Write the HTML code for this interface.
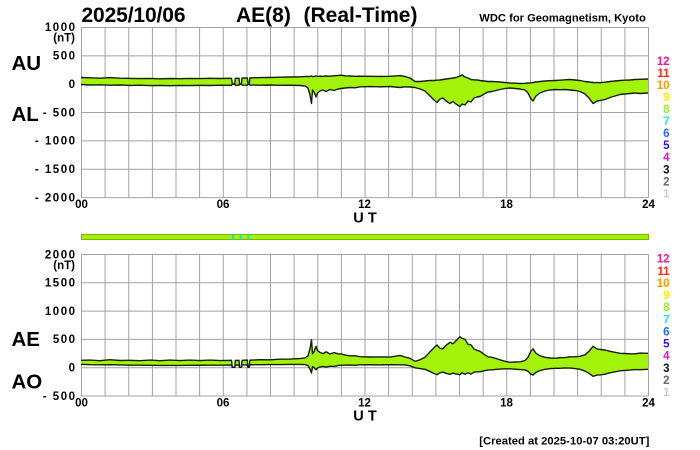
<!DOCTYPE html>
<html><head><meta charset="utf-8"><style>
html,body{margin:0;padding:0;background:#fff;}
svg{display:block;}
text{font-family:"Liberation Sans",Arial,sans-serif;font-weight:bold;fill:#000;}
</style></head><body>
<svg width="700" height="450" viewBox="0 0 700 450" xmlns="http://www.w3.org/2000/svg">
<rect width="700" height="450" fill="#fff"/>
<!-- titles -->
<text x="81.5" y="22" font-size="21" textLength="104">2025/10/06</text>
<text x="236" y="22" font-size="21">AE(8)</text>
<text x="303.5" y="22" font-size="21">(Real-Time)</text>
<text x="479.3" y="21.7" font-size="11.2" textLength="166.5">WDC for Geomagnetism, Kyoto</text>

<!-- TOP grid -->
<g stroke="#a2a2a2" stroke-width="1" fill="none">
<path d="M81.5 27.5V197.6M105.1 27.5V197.6M128.75 27.5V197.6M152.4 27.5V197.6M176 27.5V197.6M199.6 27.5V197.6M223.25 27.5V197.6M246.9 27.5V197.6M270.5 27.5V197.6M294.1 27.5V197.6M317.75 27.5V197.6M341.4 27.5V197.6M365 27.5V197.6M388.6 27.5V197.6M412.25 27.5V197.6M435.9 27.5V197.6M459.5 27.5V197.6M483.1 27.5V197.6M506.75 27.5V197.6M530.4 27.5V197.6M554 27.5V197.6M577.6 27.5V197.6M601.25 27.5V197.6M624.9 27.5V197.6M648.5 27.5V197.6"/>
<path d="M81.5 27.5H648.5M81.5 55.85H648.5M81.5 84.2H648.5M81.5 112.55H648.5M81.5 140.9H648.5M81.5 169.25H648.5M81.5 197.6H648.5"/>
</g>
<!-- BOTTOM grid -->
<g stroke="#a2a2a2" stroke-width="1" fill="none">
<path d="M81.5 254.5V396M105.1 254.5V396M128.75 254.5V396M152.4 254.5V396M176 254.5V396M199.6 254.5V396M223.25 254.5V396M246.9 254.5V396M270.5 254.5V396M294.1 254.5V396M317.75 254.5V396M341.4 254.5V396M365 254.5V396M388.6 254.5V396M412.25 254.5V396M435.9 254.5V396M459.5 254.5V396M483.1 254.5V396M506.75 254.5V396M530.4 254.5V396M554 254.5V396M577.6 254.5V396M601.25 254.5V396M624.9 254.5V396M648.5 254.5V396"/>
<path d="M81.5 254.5H648.5M81.5 282.8H648.5M81.5 311.1H648.5M81.5 339.4H648.5M81.5 367.7H648.5M81.5 396H648.5"/>
</g>

<!-- TOP series AU/AL -->
<path fill="#a2f20a" stroke="none" d="M81,77.5 L90,77.8 100,78.2 110,77.6 120,78.2 130,78.4 140,78.6 150,78.4 160,78.8 170,78.5 180,78.7 190,78.4 200,78.6 210,78.3 220,78.5 231.5,78.3 232.3,84 234.8,84 235.3,78.3 239,78.2 239.6,84 241.4,84 242,78.1 247.3,78 248,84 249.2,84 249.8,77.9 260,77.6 270,77.5 280,77.2 290,77 300,76.8 305,76.6 308,76.5 310,76.4 311.5,76 312.5,76.5 314,76.4 316,76 317.5,76.4 320,76.2 323,76.3 326,76 330,76.2 334,75.8 338,75.5 341,75.2 345,75.8 350,76 355,76.3 360,76.2 370,76.3 380,76.4 390,76.3 400,75.6 405,76.5 410,78 415,81.5 420,81.5 425,81 430,80.5 434,80.5 437,80.2 440,80 443,79.5 446,79 450,78.5 453,78 456,77.5 460,76 462,75 465,77 468,78 471,79.5 474,79.8 477,80 480,80.5 484,81 488,81.5 492,81.5 496,81.7 500,82 505,82.5 510,83 515,83.2 520,83.5 525,83.3 528,83 531,82.8 533,82.5 536,82 540,81.5 545,81 550,80.7 555,80.5 560,80.2 565,79.8 570,79.5 575,80 580,80.5 585,81.5 589,82 593,82.5 597,82.6 600,82.7 605,82.2 610,81.5 615,81 620,80.5 625,80.2 630,80 635,79.5 640,79.3 648,79 L648,93 640,93.5 635,93 630,93.5 625,94 620,94.5 615,96 610,97.5 605,99.5 600,100.5 597,101 593,103.5 589,98 585,94 580,91.5 575,90.5 570,90 565,89.5 560,89.8 555,89.5 550,90 545,91 540,93 536,96 533,101 531,99 528,93 525,90 520,89 515,88.5 510,88 505,88.5 500,89.5 496,90.5 492,91.5 488,92 484,94 480,96.5 477,97 474,98 471,102 468,101 465,105 462,104 460,106.5 456,104 453,101.5 450,103.5 446,101 443,98 440,99 437,102.5 434,100 430,96 425,91 420,89 415,87.5 410,87 405,86.8 400,87.5 390,86.5 380,86.8 370,86.6 360,86.8 355,87.8 350,87.5 345,88 341,88.5 338,89 334,90.5 330,89.5 326,91.5 323,90 320,91 317.5,93 316,97 314,92 312.5,90 311.5,103.5 310,95 308,88 305,86 300,85.5 290,85.2 280,85.3 270,85 260,85.2 249.8,85 249.2,84 248,84 247.3,85.2 242,85.1 241.4,84 239.6,84 239,85.2 235.3,85.2 234.8,84 232.3,84 231.5,85.3 220,85.2 210,85.5 200,85.3 190,85.6 180,85.4 170,85.7 160,85.4 150,85.6 140,85.2 130,85.4 120,85 110,85.2 100,84.8 90,85 81,84.5 Z"/>
<g fill="none" stroke="#162008" stroke-width="1.4" stroke-linejoin="round">
<polyline points="81,77.5 90,77.8 100,78.2 110,77.6 120,78.2 130,78.4 140,78.6 150,78.4 160,78.8 170,78.5 180,78.7 190,78.4 200,78.6 210,78.3 220,78.5 231.5,78.3 232.3,84 234.8,84 235.3,78.3 239,78.2 239.6,84 241.4,84 242,78.1 247.3,78 248,84 249.2,84 249.8,77.9 260,77.6 270,77.5 280,77.2 290,77 300,76.8 305,76.6 308,76.5 310,76.4 311.5,76 312.5,76.5 314,76.4 316,76 317.5,76.4 320,76.2 323,76.3 326,76 330,76.2 334,75.8 338,75.5 341,75.2 345,75.8 350,76 355,76.3 360,76.2 370,76.3 380,76.4 390,76.3 400,75.6 405,76.5 410,78 415,81.5 420,81.5 425,81 430,80.5 434,80.5 437,80.2 440,80 443,79.5 446,79 450,78.5 453,78 456,77.5 460,76 462,75 465,77 468,78 471,79.5 474,79.8 477,80 480,80.5 484,81 488,81.5 492,81.5 496,81.7 500,82 505,82.5 510,83 515,83.2 520,83.5 525,83.3 528,83 531,82.8 533,82.5 536,82 540,81.5 545,81 550,80.7 555,80.5 560,80.2 565,79.8 570,79.5 575,80 580,80.5 585,81.5 589,82 593,82.5 597,82.6 600,82.7 605,82.2 610,81.5 615,81 620,80.5 625,80.2 630,80 635,79.5 640,79.3 648,79"/>
<polyline points="648,93 640,93.5 635,93 630,93.5 625,94 620,94.5 615,96 610,97.5 605,99.5 600,100.5 597,101 593,103.5 589,98 585,94 580,91.5 575,90.5 570,90 565,89.5 560,89.8 555,89.5 550,90 545,91 540,93 536,96 533,101 531,99 528,93 525,90 520,89 515,88.5 510,88 505,88.5 500,89.5 496,90.5 492,91.5 488,92 484,94 480,96.5 477,97 474,98 471,102 468,101 465,105 462,104 460,106.5 456,104 453,101.5 450,103.5 446,101 443,98 440,99 437,102.5 434,100 430,96 425,91 420,89 415,87.5 410,87 405,86.8 400,87.5 390,86.5 380,86.8 370,86.6 360,86.8 355,87.8 350,87.5 345,88 341,88.5 338,89 334,90.5 330,89.5 326,91.5 323,90 320,91 317.5,93 316,97 314,92 312.5,90 311.5,103.5 310,95 308,88 305,86 300,85.5 290,85.2 280,85.3 270,85 260,85.2 249.8,85 249.2,84 248,84 247.3,85.2 242,85.1 241.4,84 239.6,84 239,85.2 235.3,85.2 234.8,84 232.3,84 231.5,85.3 220,85.2 210,85.5 200,85.3 190,85.6 180,85.4 170,85.7 160,85.4 150,85.6 140,85.2 130,85.4 120,85 110,85.2 100,84.8 90,85 81,84.5"/>
</g>

<!-- BOTTOM series AE/AO -->
<path fill="#a2f20a" stroke="none" d="M81,360.3 L90,360.1 100,360.7 110,359.7 120,360.5 130,360.3 140,360.7 150,360.1 160,360.7 170,360.1 180,360.6 190,360.1 200,360.6 210,360.1 220,360.6 231.5,360.3 232.3,367.3 234.8,367.3 235.3,360.4 239,360.3 239.6,367.3 241.4,367.3 242,360.3 247.3,360.1 248,367.3 249.2,367.3 249.8,360.2 260,359.7 270,359.8 280,359.2 290,359.1 300,358.6 305,357.9 308,355.8 310,348.7 311.5,339.8 312.5,353.8 314,351.7 316,346.3 317.5,350.7 320,352.5 323,353.6 326,351.8 330,354 334,352.6 338,353.8 341,354 345,355.1 350,355.8 355,355.8 360,356.7 370,357 380,356.9 390,357.1 400,355.4 405,357 410,358.3 415,361.3 420,359.8 425,357.3 430,351.8 434,347.8 437,345 440,348.3 443,348.8 446,345.3 450,342.3 453,343.8 456,340.8 460,336.8 462,338.3 465,339.3 468,344.3 471,344.8 474,349.1 477,350.3 480,351.3 484,354.3 488,356.8 492,357.3 496,358.5 500,359.8 505,361.3 510,362.3 515,362 520,361.8 525,360.6 528,357.3 531,351.1 533,348.8 536,353.3 540,355.8 545,357.3 550,358 555,358.3 560,357.7 565,357.6 570,356.8 575,356.8 580,356.3 585,354.8 589,351.3 593,346.3 597,348.9 600,349.5 605,350 610,351.3 615,352.3 620,353.3 625,353.5 630,353.8 635,353.8 640,353.1 648,353.3 L648,369.3 640,369.7 635,369.55 630,370.05 625,370.4 620,370.8 615,371.8 610,372.8 605,374.15 600,374.9 597,375.1 593,376.3 589,373.3 585,371.05 580,369.3 575,368.55 570,368.05 565,367.95 560,368.3 555,368.3 550,368.65 545,369.3 540,370.55 536,372.3 533,375.05 531,374.2 528,371.3 525,369.95 520,369.55 515,369.15 510,368.8 505,368.8 500,369.05 496,369.4 492,369.8 488,370.05 484,370.8 480,371.8 477,371.8 474,372.2 471,374.05 468,372.8 465,374.3 462,372.8 460,374.55 456,374.05 453,373.05 450,374.3 446,373.3 443,372.05 440,372.8 437,374.65 434,373.55 430,371.55 425,369.3 420,368.55 415,367.8 410,365.8 405,364.95 400,364.85 390,364.7 380,364.9 370,364.75 360,364.8 355,365.35 350,365.05 345,365.2 341,365.15 338,365.55 334,366.45 330,366.15 326,367.05 323,366.45 320,366.9 317.5,368 316,369.8 314,367.5 312.5,366.55 311.5,373.05 310,369 308,365.55 305,364.6 300,364.45 290,364.4 280,364.55 270,364.55 260,364.7 249.8,364.75 249.2,367.3 248,367.3 247.3,364.9 242,364.9 241.4,367.3 239.6,367.3 239,365 235.3,365.05 234.8,367.3 232.3,367.3 231.5,365.1 220,365.15 210,365.2 200,365.25 190,365.3 180,365.4 170,365.4 160,365.4 150,365.3 140,365.2 130,365.2 120,364.9 110,364.7 100,364.8 90,364.7 81,364.3 Z"/>
<g fill="none" stroke="#162008" stroke-width="1.4" stroke-linejoin="round">
<polyline points="81,360.3 90,360.1 100,360.7 110,359.7 120,360.5 130,360.3 140,360.7 150,360.1 160,360.7 170,360.1 180,360.6 190,360.1 200,360.6 210,360.1 220,360.6 231.5,360.3 232.3,367.3 234.8,367.3 235.3,360.4 239,360.3 239.6,367.3 241.4,367.3 242,360.3 247.3,360.1 248,367.3 249.2,367.3 249.8,360.2 260,359.7 270,359.8 280,359.2 290,359.1 300,358.6 305,357.9 308,355.8 310,348.7 311.5,339.8 312.5,353.8 314,351.7 316,346.3 317.5,350.7 320,352.5 323,353.6 326,351.8 330,354 334,352.6 338,353.8 341,354 345,355.1 350,355.8 355,355.8 360,356.7 370,357 380,356.9 390,357.1 400,355.4 405,357 410,358.3 415,361.3 420,359.8 425,357.3 430,351.8 434,347.8 437,345 440,348.3 443,348.8 446,345.3 450,342.3 453,343.8 456,340.8 460,336.8 462,338.3 465,339.3 468,344.3 471,344.8 474,349.1 477,350.3 480,351.3 484,354.3 488,356.8 492,357.3 496,358.5 500,359.8 505,361.3 510,362.3 515,362 520,361.8 525,360.6 528,357.3 531,351.1 533,348.8 536,353.3 540,355.8 545,357.3 550,358 555,358.3 560,357.7 565,357.6 570,356.8 575,356.8 580,356.3 585,354.8 589,351.3 593,346.3 597,348.9 600,349.5 605,350 610,351.3 615,352.3 620,353.3 625,353.5 630,353.8 635,353.8 640,353.1 648,353.3"/>
<polyline points="648,369.3 640,369.7 635,369.55 630,370.05 625,370.4 620,370.8 615,371.8 610,372.8 605,374.15 600,374.9 597,375.1 593,376.3 589,373.3 585,371.05 580,369.3 575,368.55 570,368.05 565,367.95 560,368.3 555,368.3 550,368.65 545,369.3 540,370.55 536,372.3 533,375.05 531,374.2 528,371.3 525,369.95 520,369.55 515,369.15 510,368.8 505,368.8 500,369.05 496,369.4 492,369.8 488,370.05 484,370.8 480,371.8 477,371.8 474,372.2 471,374.05 468,372.8 465,374.3 462,372.8 460,374.55 456,374.05 453,373.05 450,374.3 446,373.3 443,372.05 440,372.8 437,374.65 434,373.55 430,371.55 425,369.3 420,368.55 415,367.8 410,365.8 405,364.95 400,364.85 390,364.7 380,364.9 370,364.75 360,364.8 355,365.35 350,365.05 345,365.2 341,365.15 338,365.55 334,366.45 330,366.15 326,367.05 323,366.45 320,366.9 317.5,368 316,369.8 314,367.5 312.5,366.55 311.5,373.05 310,369 308,365.55 305,364.6 300,364.45 290,364.4 280,364.55 270,364.55 260,364.7 249.8,364.75 249.2,367.3 248,367.3 247.3,364.9 242,364.9 241.4,367.3 239.6,367.3 239,365 235.3,365.05 234.8,367.3 232.3,367.3 231.5,365.1 220,365.15 210,365.2 200,365.25 190,365.3 180,365.4 170,365.4 160,365.4 150,365.3 140,365.2 130,365.2 120,364.9 110,364.7 100,364.8 90,364.7 81,364.3"/>
</g>

<!-- strip -->
<rect x="81.5" y="234.5" width="567" height="5" fill="#a2f20a" stroke="#78b800" stroke-width="1"/>
<rect x="232" y="235" width="2" height="4" fill="#00e8f0"/>
<rect x="239.5" y="235" width="2" height="4" fill="#00e8f0"/>
<rect x="247.3" y="235" width="2" height="4" fill="#00e8f0"/>

<!-- top y labels -->
<g font-size="11.5" letter-spacing="1.5" text-anchor="end">
<text x="76.5" y="31">1000</text>
<text x="76.5" y="59.3">500</text>
<text x="76.5" y="88">0</text>
<text x="76.5" y="116.3">- 500</text>
<text x="76.5" y="144.6">- 1000</text>
<text x="76.5" y="173">- 1500</text>
<text x="76.5" y="201.5">- 2000</text>
</g>
<text x="75" y="41.5" font-size="11.5" text-anchor="end">(nT)</text>
<!-- bottom y labels -->
<g font-size="11.5" letter-spacing="1.5" text-anchor="end">
<text x="76.5" y="258.3">2000</text>
<text x="76.5" y="286.6">1500</text>
<text x="76.5" y="314.9">1000</text>
<text x="76.5" y="343.2">500</text>
<text x="76.5" y="371.5">0</text>
<text x="76.5" y="399.8">- 500</text>
</g>
<text x="75" y="268.8" font-size="11.5" text-anchor="end">(nT)</text>

<!-- x labels -->
<g font-size="11.5" text-anchor="middle">
<text x="81.5" y="208">00</text>
<text x="223" y="208">06</text>
<text x="364.5" y="208">12</text>
<text x="506.5" y="208">18</text>
<text x="648.5" y="208">24</text>
<text x="81.5" y="406.5">00</text>
<text x="223" y="406.5">06</text>
<text x="364.5" y="406.5">12</text>
<text x="506.5" y="406.5">18</text>
<text x="648.5" y="406.5">24</text>
</g>
<text x="353.3" y="222.3" font-size="14.5" textLength="23.4">U T</text>
<text x="353.3" y="420.7" font-size="14.5" textLength="23.4">U T</text>

<!-- big labels -->
<g font-size="20.5">
<text x="11.5" y="70">AU</text>
<text x="11.5" y="121">AL</text>
<text x="11.5" y="346">AE</text>
<text x="11.5" y="388.3">AO</text>
</g>

<!-- color legend top -->
<g font-size="11.5" text-anchor="end">
<text x="669.5" y="65" style="fill:#ff1a8c">12</text>
<text x="669.5" y="77" style="fill:#ff2a1a">11</text>
<text x="669.5" y="89.1" style="fill:#ff9900">10</text>
<text x="669.5" y="101.1" style="fill:#ffee00">9</text>
<text x="669.5" y="113.1" style="fill:#99ee22">8</text>
<text x="669.5" y="125.2" style="fill:#22eecc">7</text>
<text x="669.5" y="137.2" style="fill:#1a6cff">6</text>
<text x="669.5" y="149.2" style="fill:#3a10ee">5</text>
<text x="669.5" y="161.2" style="fill:#e010f0">4</text>
<text x="669.5" y="173.3" style="fill:#111">3</text>
<text x="669.5" y="185.3" style="fill:#666">2</text>
<text x="669.5" y="197.3" style="fill:#cccccc">1</text>
</g>
<!-- color legend bottom -->
<g font-size="11.5" text-anchor="end">
<text x="669.5" y="262.7" style="fill:#ff1a8c">12</text>
<text x="669.5" y="274.8" style="fill:#ff2a1a">11</text>
<text x="669.5" y="286.9" style="fill:#ff9900">10</text>
<text x="669.5" y="299.1" style="fill:#ffee00">9</text>
<text x="669.5" y="311.2" style="fill:#99ee22">8</text>
<text x="669.5" y="323.3" style="fill:#22eecc">7</text>
<text x="669.5" y="335.4" style="fill:#1a6cff">6</text>
<text x="669.5" y="347.5" style="fill:#3a10ee">5</text>
<text x="669.5" y="359.7" style="fill:#e010f0">4</text>
<text x="669.5" y="371.8" style="fill:#111">3</text>
<text x="669.5" y="383.9" style="fill:#666">2</text>
<text x="669.5" y="396" style="fill:#cccccc">1</text>
</g>

<text x="479.3" y="444.3" font-size="11.2" textLength="170">[Created at 2025-10-07 03:20UT]</text>
</svg>
</body></html>
